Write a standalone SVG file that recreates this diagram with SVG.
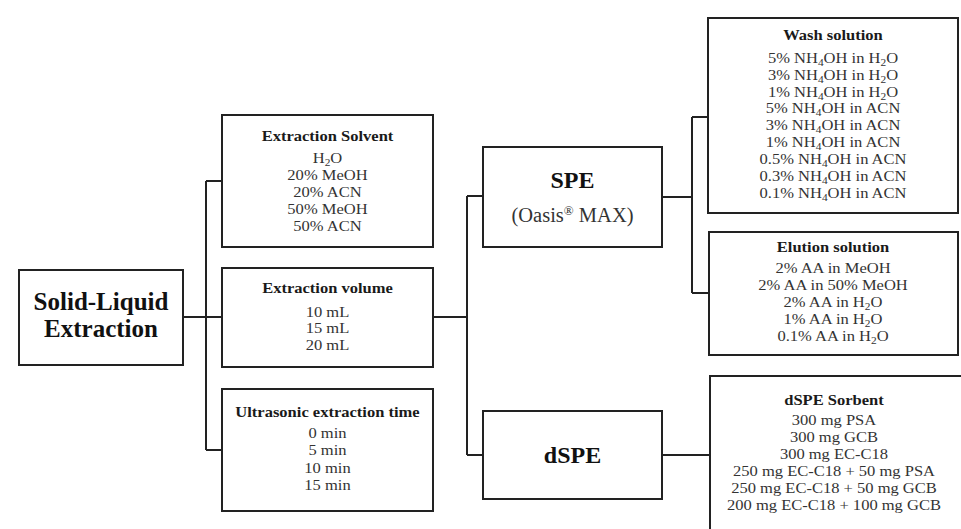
<svg xmlns="http://www.w3.org/2000/svg" width="961" height="529" viewBox="0 0 961 529">
<style>
.box{fill:#fff;stroke:#222;stroke-width:2}
.ln{fill:none;stroke:#222;stroke-width:2}
text{font-family:"Liberation Serif","Times New Roman",serif;text-anchor:middle}
.t{font-weight:bold;font-size:14.5px;fill:#1a1a1a}
.b{font-size:14.5px;fill:#333}
.big{font-weight:bold;font-size:25px;fill:#111}
.mid{font-weight:bold;font-size:24px;fill:#111}
.sub{font-size:10px}
</style>
<rect width="961" height="529" fill="#fff"/>
<g id="connectors" class="ln">
<path d="M183 317H206M206 181V450M206 181H222M206 317H222M206 450H222"/>
<path d="M433 317H467M467 196V455M467 196H483M467 455H483"/>
<path d="M662 197H692M692 117V293M692 117H708M692 293H708"/>
<path d="M662 455H710"/>
</g>
<g id="sle">
<rect class="box" x="19" y="270" width="164" height="95"/>
<text class="big" x="101" y="310">Solid-Liquid</text>
<text class="big" x="101" y="337">Extraction</text>
</g>
<g id="solvent">
<rect class="box" x="222" y="115" width="211" height="132"/>
<g transform="translate(327.5 0) scale(1.14 1)">
<text class="t" x="0" y="141">Extraction Solvent</text>
<text class="b" x="0" y="163">H<tspan class="sub" dy="3">2</tspan><tspan dy="-3">O</tspan></text>
<text class="b" x="0" y="180">20% MeOH</text>
<text class="b" x="0" y="197">20% ACN</text>
<text class="b" x="0" y="214">50% MeOH</text>
<text class="b" x="0" y="231">50% ACN</text>
</g>
</g>
<g id="volume">
<rect class="box" x="222" y="268" width="211" height="99"/>
<g transform="translate(327.5 0) scale(1.14 1)">
<text class="t" x="0" y="293">Extraction volume</text>
<text class="b" x="0" y="317">10 mL</text>
<text class="b" x="0" y="333.5">15 mL</text>
<text class="b" x="0" y="350">20 mL</text>
</g>
</g>
<g id="time">
<rect class="box" x="222" y="389" width="211" height="122"/>
<g transform="translate(327.5 0) scale(1.14 1)">
<text class="t" x="0" y="417">Ultrasonic extraction time</text>
<text class="b" x="0" y="438">0 min</text>
<text class="b" x="0" y="455">5 min</text>
<text class="b" x="0" y="473">10 min</text>
<text class="b" x="0" y="490">15 min</text>
</g>
</g>
<g id="spe">
<rect class="box" x="483" y="147" width="179" height="100"/>
<text class="mid" x="572.5" y="188">SPE</text>
<text x="572.5" y="222" style="font-size:20.5px;fill:#333">(Oasis<tspan style="font-size:13px" dy="-7">®</tspan><tspan dy="7"> MAX)</tspan></text>
</g>
<g id="dspe">
<rect class="box" x="483" y="411" width="179" height="88"/>
<text class="mid" x="572.5" y="463">dSPE</text>
</g>
<g id="wash">
<rect class="box" x="708" y="18" width="250" height="195"/>
<g transform="translate(833 0) scale(1.14 1)">
<text class="t" x="0" y="40">Wash solution</text>
<text class="b" x="0" y="63">5% NH<tspan class="sub" dy="3">4</tspan><tspan dy="-3">OH in H</tspan><tspan class="sub" dy="3">2</tspan><tspan dy="-3">O</tspan></text>
<text class="b" x="0" y="80">3% NH<tspan class="sub" dy="3">4</tspan><tspan dy="-3">OH in H</tspan><tspan class="sub" dy="3">2</tspan><tspan dy="-3">O</tspan></text>
<text class="b" x="0" y="97">1% NH<tspan class="sub" dy="3">4</tspan><tspan dy="-3">OH in H</tspan><tspan class="sub" dy="3">2</tspan><tspan dy="-3">O</tspan></text>
<text class="b" x="0" y="113.5">5% NH<tspan class="sub" dy="3">4</tspan><tspan dy="-3">OH in ACN</tspan></text>
<text class="b" x="0" y="130.5">3% NH<tspan class="sub" dy="3">4</tspan><tspan dy="-3">OH in ACN</tspan></text>
<text class="b" x="0" y="147.5">1% NH<tspan class="sub" dy="3">4</tspan><tspan dy="-3">OH in ACN</tspan></text>
<text class="b" x="0" y="164.5">0.5% NH<tspan class="sub" dy="3">4</tspan><tspan dy="-3">OH in ACN</tspan></text>
<text class="b" x="0" y="181.5">0.3% NH<tspan class="sub" dy="3">4</tspan><tspan dy="-3">OH in ACN</tspan></text>
<text class="b" x="0" y="198.5">0.1% NH<tspan class="sub" dy="3">4</tspan><tspan dy="-3">OH in ACN</tspan></text>
</g>
</g>
<g id="elution">
<rect class="box" x="709" y="232" width="249" height="123"/>
<g transform="translate(833 0) scale(1.14 1)">
<text class="t" x="0" y="252">Elution solution</text>
<text class="b" x="0" y="273">2% AA in MeOH</text>
<text class="b" x="0" y="290">2% AA in 50% MeOH</text>
<text class="b" x="0" y="307">2% AA in H<tspan class="sub" dy="3">2</tspan><tspan dy="-3">O</tspan></text>
<text class="b" x="0" y="324">1% AA in H<tspan class="sub" dy="3">2</tspan><tspan dy="-3">O</tspan></text>
<text class="b" x="0" y="341">0.1% AA in H<tspan class="sub" dy="3">2</tspan><tspan dy="-3">O</tspan></text>
</g>
</g>
<g id="sorbent">
<rect class="box" x="710" y="376" width="260" height="170"/>
<g transform="translate(834 0) scale(1.14 1)">
<text class="t" x="0" y="405">dSPE Sorbent</text>
<text class="b" x="0" y="425">300 mg PSA</text>
<text class="b" x="0" y="442">300 mg GCB</text>
<text class="b" x="0" y="459">300 mg EC-C18</text>
<text class="b" x="0" y="476">250 mg EC-C18 + 50 mg PSA</text>
<text class="b" x="0" y="493">250 mg EC-C18 + 50 mg GCB</text>
<text class="b" x="0" y="510">200 mg EC-C18 + 100 mg GCB</text>
</g>
</g>
</svg>
